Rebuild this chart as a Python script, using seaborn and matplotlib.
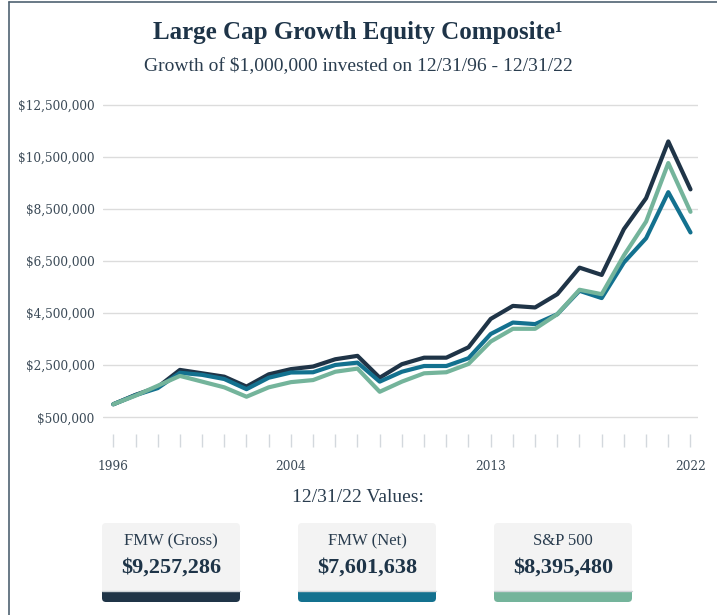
import numpy as np
import pandas as pd
import seaborn as sns
import matplotlib.pyplot as plt
import matplotlib.transforms as mtransforms
from matplotlib.patches import FancyBboxPatch, Rectangle
from matplotlib.lines import Line2D

# ---------------- data (values in $ millions) ----------------
years = list(range(1996, 2023))
gross = [1.00, 1.36, 1.66, 2.32, 2.19, 2.06, 1.68, 2.15, 2.35, 2.45, 2.73, 2.86, 2.02, 2.54,
         2.79, 2.79, 3.19, 4.28, 4.78, 4.72, 5.23, 6.25, 5.97, 7.73, 8.92, 11.10, 9.257286]
net = [1.00, 1.35, 1.62, 2.21, 2.13, 1.97, 1.58, 2.02, 2.22, 2.23, 2.51, 2.60, 1.87, 2.25,
       2.47, 2.47, 2.77, 3.70, 4.14, 4.08, 4.46, 5.36, 5.08, 6.45, 7.38, 9.15, 7.601638]
sp500 = [1.00, 1.33, 1.71, 2.09, 1.87, 1.65, 1.29, 1.65, 1.85, 1.93, 2.25, 2.37, 1.48, 1.87,
         2.19, 2.23, 2.55, 3.41, 3.90, 3.90, 4.46, 5.40, 5.23, 6.72, 8.02, 10.27, 8.395480]

series_names = ['FMW (Gross)', 'FMW (Net)', 'S&P 500']
end_values = ['$9,257,286', '$7,601,638', '$8,395,480']
colors = ['#1f3447', '#13718f', '#74b49b']
y_ticks = [500000, 2500000, 4500000, 6500000, 8500000, 10500000, 12500000]
x_labels = [1996, 2004, 2013, 2022]

df = pd.DataFrame({
    'year': years * 3,
    'value': [v * 1e6 for v in gross + net + sp500],
    'series': [n for n in series_names for _ in years],
})

sns.set_style('white')
plt.rcParams['font.family'] = ['DejaVu Serif']

W, H = 717, 615
fig = plt.figure(figsize=(W / 100, H / 100), dpi=100)
fig.patch.set_facecolor('white')

# axes placement in pixels
ax_l, ax_r, ax_t, ax_b = 103, 698, 103, 447
ax = fig.add_axes([ax_l / W, 1 - ax_b / H, (ax_r - ax_l) / W, (ax_b - ax_t) / H])

sns.lineplot(data=df, x='year', y='value', hue='series', hue_order=series_names,
             palette=colors, linewidth=3.0, ax=ax, legend=False, sort=False)

# y scale: 26 px per $1M, gridline $500k at y=417.3
px_per = 26 / 1e6
y_bottom = 500000 - (ax_b - 417.3) / px_per
y_top = 12500000 + (105 - ax_t) / px_per
ax.set_ylim(y_bottom, y_top)
px_year = 22.2
ax.set_xlim(1996 - (113.3 - ax_l) / px_year, 1996 + (ax_r - 113.3) / px_year)

ax.set_yticks(y_ticks)
ax.set_yticklabels(['${:,.0f}'.format(v) for v in y_ticks])
ax.set_xticks(years)
ax.set_xticklabels([str(y) if y in x_labels else '' for y in years])
ax.grid(axis='y', color='#dcdcdc', linewidth=1.0)
ax.set_axisbelow(True)
ax.tick_params(axis='y', left=False, length=0, pad=6, labelsize=8.7, labelcolor='#3b4a57')
ax.tick_params(axis='x', bottom=True, direction='in', length=9.5, width=1.0, color='#d3d8dd',
               pad=9, labelsize=8.7, labelcolor='#3b4a57')
for s in ax.spines.values():
    s.set_visible(False)
ax.set_xlabel('')
ax.set_ylabel('')

# ---------------- titles ----------------
title_col = '#1e3448'
fig.text(358 / W, 1 - 32 / H, 'Large Cap Growth Equity Composite\u00b9', ha='center', va='center',
         fontsize=18, fontweight='bold', color=title_col, family='Liberation Serif')
fig.text(358 / W, 1 - 66 / H, 'Growth of $1,000,000 invested on 12/31/96 - 12/31/22',
         ha='center', va='center', fontsize=14, color='#2a3d4f', family='Liberation Serif')
fig.text(358 / W, 1 - 498 / H, '12/31/22 Values:', ha='center', va='center',
         fontsize=14, color='#2a3d4f', family='Liberation Serif')

# ---------------- value boxes ----------------
ident = mtransforms.IdentityTransform()
box_left = [102, 298, 494]
box_w, box_top, box_bot, bar_top = 138, 523, 602, 591
for bl, name, val, c in zip(box_left, series_names, end_values, colors):
    fig.patches.append(FancyBboxPatch((bl, H - box_bot), box_w, box_bot - box_top,
                                      boxstyle='round,pad=0,rounding_size=4',
                                      facecolor='#f3f3f3', edgecolor='none', transform=ident))
    fig.patches.append(FancyBboxPatch((bl, H - box_bot), box_w, box_bot - bar_top + 5,
                                      boxstyle='round,pad=0,rounding_size=4',
                                      facecolor=c, edgecolor='none', transform=ident))
    fig.patches.append(Rectangle((bl, H - bar_top), box_w, 6, facecolor='#f3f3f3',
                                 edgecolor='none', transform=ident))
    fig.lines.append(Line2D([bl, bl + box_w], [H - bar_top + 0.5] * 2, color='#cfd4d8',
                            linewidth=1, transform=ident))
    cx = (bl + box_w / 2) / W
    fig.text(cx, 1 - 541 / H, name, ha='center', va='center', fontsize=12,
             color='#2a3d4f', family='Liberation Serif')
    fig.text(cx, 1 - 568 / H, val, ha='center', va='center', fontsize=16,
             fontweight='bold', color=title_col, family='Liberation Serif')

# ---------------- frame lines ----------------
fig.lines.append(Line2D([8.5 / W, 8.5 / W], [0, 1 - 2 / H], color='#4f6272', linewidth=1.2,
                        transform=fig.transFigure))
fig.lines.append(Line2D([8.5 / W, 1], [1 - 2 / H, 1 - 2 / H], color='#4f6272', linewidth=1.2,
                        transform=fig.transFigure))

fig.savefig('out.png', dpi=100)
